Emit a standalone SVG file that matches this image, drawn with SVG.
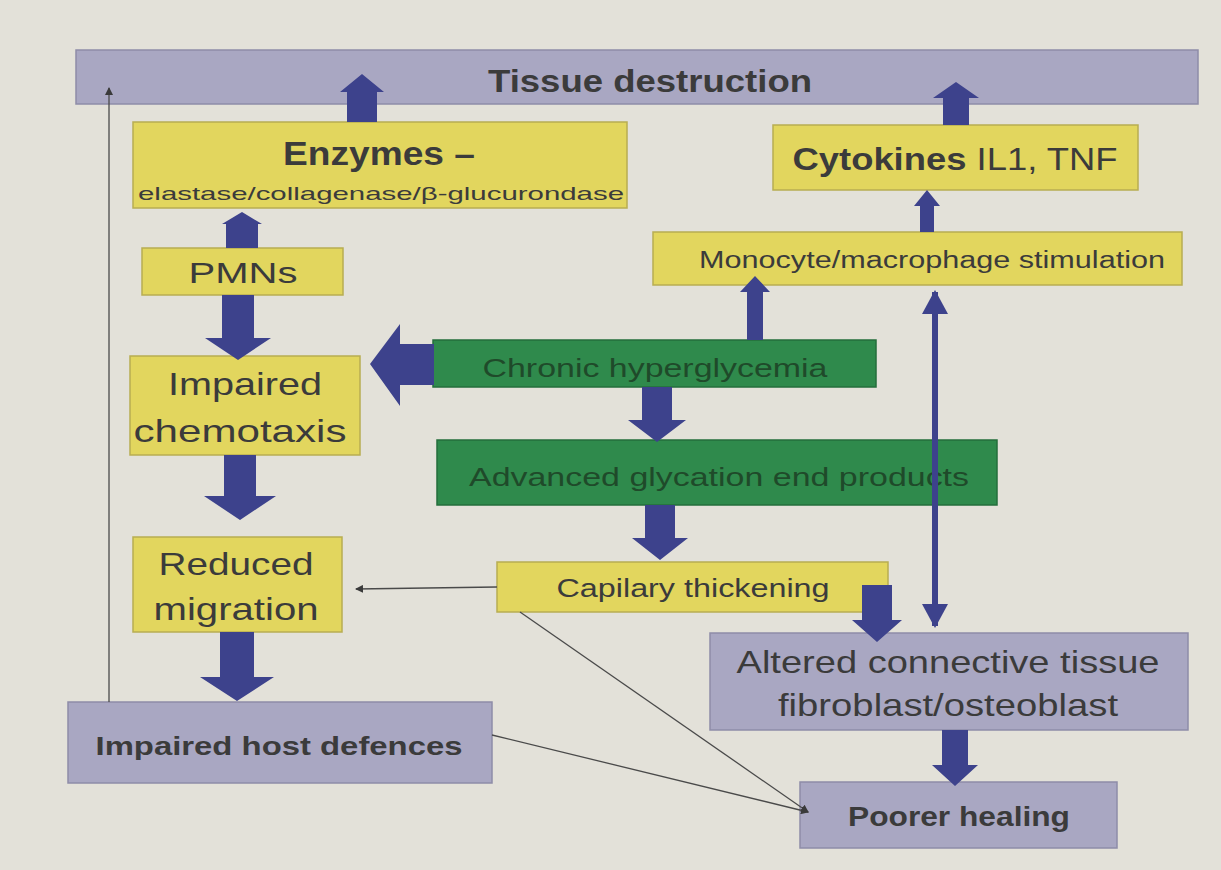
<svg xmlns="http://www.w3.org/2000/svg" width="1221" height="870" viewBox="0 0 1221 870">
<style>
.lav{fill:#a9a7c2;stroke:#8e8ca8;stroke-width:1.5}
.yel{fill:#e2d65e;stroke:#b8ad52;stroke-width:1.5}
.grn{fill:#2f8a4c;stroke:#246e3b;stroke-width:1.5}
.t{font-family:"Liberation Sans",Arial,sans-serif;fill:#3b3b3b;text-anchor:middle}
.tg{font-family:"Liberation Sans",Arial,sans-serif;fill:#1f4a2a;text-anchor:middle}
.b{font-weight:bold}
.blk{fill:#3d428c}
.thin{stroke:#4a4a4a;stroke-width:1.3;fill:none}
.dbl{stroke:#3d428c;stroke-width:6;fill:none}
</style>
<defs>
<marker id="ah" markerWidth="8" markerHeight="8" refX="7" refY="4" orient="auto" markerUnits="userSpaceOnUse">
<path d="M0,0 L8,4 L0,8 Z" fill="#3a3a3a"/>
</marker>
<marker id="bh" markerWidth="24" markerHeight="26" refX="22" refY="13" orient="auto-start-reverse" markerUnits="userSpaceOnUse">
<path d="M0,0 L24,13 L0,26 Z" fill="#3d428c"/>
</marker>
</defs>
<rect x="0" y="0" width="1221" height="870" fill="#e3e1d9"/>

<g id="tissue-destruction">
<rect class="lav" x="76" y="50" width="1122" height="54"/>
<text class="t b" x="650" y="92" font-size="32" textLength="324" lengthAdjust="spacingAndGlyphs">Tissue destruction</text>
</g>
<g id="enzymes">
<rect class="yel" x="133" y="122" width="494" height="86"/>
<text class="t b" x="379" y="165" font-size="33" textLength="192" lengthAdjust="spacingAndGlyphs">Enzymes –</text>
<text class="t" x="381" y="200" font-size="19" textLength="486" lengthAdjust="spacingAndGlyphs">elastase/collagenase/β-glucurondase</text>
</g>
<g id="cytokines">
<rect class="yel" x="773" y="125" width="365" height="65"/>
<text class="t" x="955" y="170" font-size="31" textLength="325" lengthAdjust="spacingAndGlyphs"><tspan font-weight="bold">Cytokines</tspan> IL1, TNF</text>
</g>
<g id="monocyte">
<rect class="yel" x="653" y="232" width="529" height="53"/>
<text class="t" x="932" y="268" font-size="23" textLength="466" lengthAdjust="spacingAndGlyphs">Monocyte/macrophage stimulation</text>
</g>
<g id="pmns">
<rect class="yel" x="142" y="248" width="201" height="47"/>
<text class="t" x="243" y="283" font-size="30" textLength="109" lengthAdjust="spacingAndGlyphs">PMNs</text>
</g>
<g id="impaired-chemotaxis">
<rect class="yel" x="130" y="356" width="230" height="99"/>
<text class="t" x="245" y="395" font-size="32" textLength="154" lengthAdjust="spacingAndGlyphs">Impaired</text>
<text class="t" x="240" y="442" font-size="32" textLength="213" lengthAdjust="spacingAndGlyphs">chemotaxis</text>
</g>
<g id="chronic-hyperglycemia">
<rect class="grn" x="433" y="340" width="443" height="47"/>
<text class="tg" x="655" y="377" font-size="26" textLength="345" lengthAdjust="spacingAndGlyphs">Chronic hyperglycemia</text>
</g>
<g id="advanced-glycation">
<rect class="grn" x="437" y="440" width="560" height="65"/>
<text class="tg" x="719" y="486" font-size="26" textLength="500" lengthAdjust="spacingAndGlyphs">Advanced glycation end products</text>
</g>
<g id="capillary-thickening">
<rect class="yel" x="497" y="562" width="391" height="50"/>
<text class="t" x="693" y="597" font-size="25" textLength="273" lengthAdjust="spacingAndGlyphs">Capilary thickening</text>
</g>
<g id="reduced-migration">
<rect class="yel" x="133" y="537" width="209" height="95"/>
<text class="t" x="236" y="575" font-size="32" textLength="155" lengthAdjust="spacingAndGlyphs">Reduced</text>
<text class="t" x="236" y="620" font-size="32" textLength="165" lengthAdjust="spacingAndGlyphs">migration</text>
</g>
<g id="altered-connective-tissue">
<rect class="lav" x="710" y="633" width="478" height="97"/>
<text class="t" x="948" y="673" font-size="32" textLength="423" lengthAdjust="spacingAndGlyphs">Altered connective tissue</text>
<text class="t" x="948" y="716" font-size="32" textLength="340" lengthAdjust="spacingAndGlyphs">fibroblast/osteoblast</text>
</g>
<g id="impaired-host-defences">
<rect class="lav" x="68" y="702" width="424" height="81"/>
<text class="t b" x="279" y="755" font-size="25" textLength="367" lengthAdjust="spacingAndGlyphs">Impaired host defences</text>
</g>
<g id="poorer-healing">
<rect class="lav" x="800" y="782" width="317" height="66"/>
<text class="t b" x="959" y="826" font-size="27" textLength="222" lengthAdjust="spacingAndGlyphs">Poorer healing</text>
</g>

<g id="connectors">
<line class="thin" x1="109" y1="702" x2="109" y2="88" marker-end="url(#ah)"/>
<line class="thin" x1="497" y1="587" x2="356" y2="589" marker-end="url(#ah)"/>
<line class="thin" x1="520" y1="612" x2="808" y2="812" marker-end="url(#ah)"/>
<line class="thin" x1="492" y1="735" x2="808" y2="812" marker-end="url(#ah)"/>
<line class="dbl" x1="935" y1="292" x2="935" y2="626" marker-start="url(#bh)" marker-end="url(#bh)"/>
<path class="blk" d="M347,122 L347,92 L340,92 L362,74 L384,92 L377,92 L377,122 Z"/>
<path class="blk" d="M943,125 L943,98 L933,98 L956,82 L979,98 L969,98 L969,125 Z"/>
<path class="blk" d="M226,248 L226,224 L222,224 L242,212 L262,224 L258,224 L258,248 Z"/>
<path class="blk" d="M920,232 L920,206 L914,206 L927,190 L940,206 L934,206 L934,232 Z"/>
<path class="blk" d="M222,295 L222,338 L205,338 L238,360 L271,338 L254,338 L254,295 Z"/>
<path class="blk" d="M224,455 L224,496 L204,496 L240,520 L276,496 L256,496 L256,455 Z"/>
<path class="blk" d="M220,632 L220,677 L200,677 L237,701 L274,677 L254,677 L254,632 Z"/>
<path class="blk" d="M434,344 L400,344 L400,324 L370,364 L400,406 L400,385 L434,385 Z"/>
<path class="blk" d="M747,340 L747,292 L740,292 L755,276 L770,292 L763,292 L763,340 Z"/>
<path class="blk" d="M642,387 L642,420 L628,420 L657,442 L686,420 L672,420 L672,387 Z"/>
<path class="blk" d="M645,505 L645,538 L632,538 L660,560 L688,538 L675,538 L675,505 Z"/>
<path class="blk" d="M862,585 L862,620 L852,620 L877,642 L902,620 L892,620 L892,585 Z"/>
<path class="blk" d="M942,730 L942,765 L932,765 L955,786 L978,765 L968,765 L968,730 Z"/>
</g>
</svg>
